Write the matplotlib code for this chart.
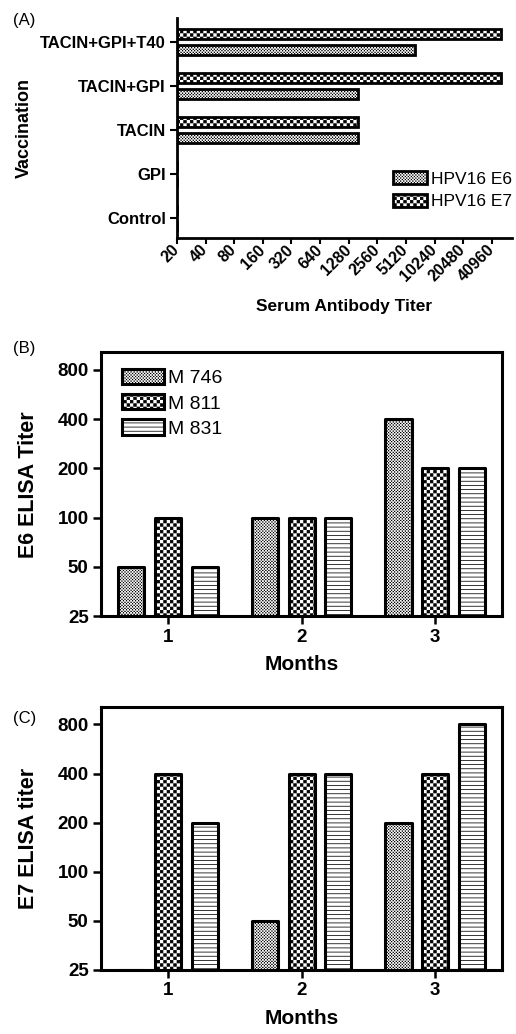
import warnings
import numpy as np
import matplotlib
matplotlib.use('Agg')
import matplotlib.pyplot as plt
import matplotlib.hatch as mhatch
from matplotlib.path import Path
from matplotlib.ticker import NullLocator

warnings.filterwarnings('ignore')

# (A) serum antibody titers per vaccination group
vaccines = ['Control', 'GPI', 'TACIN', 'TACIN+GPI', 'TACIN+GPI+T40']
hpv_e6 = [20, 20, 1600, 1600, 6400]
hpv_e7 = [20, 20, 1600, 51200, 51200]
titer_ticks = [20, 40, 80, 160, 320, 640, 1280, 2560, 5120, 10240, 20480, 40960]

# (B) E6 and (C) E7 ELISA titers per mouse over months
months = [1, 2, 3]
mice = ['M 746', 'M 811', 'M 831']
e6_m746 = [50, 100, 400]
e6_m811 = [100, 100, 200]
e6_m831 = [50, 100, 200]
e7_m746 = [25, 50, 200]
e7_m811 = [400, 400, 400]
e7_m831 = [200, 400, 800]
elisa_ticks = [25, 50, 100, 200, 400, 800]


# checkerboard fill patterns: 'c' coarse, 'k' fine
class CheckerHatch(mhatch.HatchPatternBase):
    def __init__(self, hatch, density):
        nc, nk = hatch.count('c'), hatch.count('k')
        n = (5 * nc + 11 * nk) * density
        self.n = n - n % 2
        self.ins = 0.004 if nc else 0.0052
        self.num_vertices = self.n * self.n // 2 * 5

    def set_vertices_and_codes(self, vertices, codes):
        n = self.n
        i, j = np.meshgrid(np.arange(n), np.arange(n))
        keep = (i + j) % 2 == 0
        s = 1.0 / n
        ins = self.ins
        sq = np.array([[0, 0], [1, 0], [1, 1], [0, 1], [0, 0]]) * (s - 2 * ins) + ins
        corners = np.stack([i[keep] * s, j[keep] * s], axis=1)
        vertices[:] = (corners[:, None, :] + sq[None, :, :]).reshape(-1, 2)
        c = [Path.MOVETO, Path.LINETO, Path.LINETO, Path.LINETO, Path.CLOSEPOLY]
        codes[:] = np.tile(c, len(corners))


mhatch._hatch_types.append(CheckerHatch)

plt.rcParams['font.family'] = ['Liberation Sans', 'DejaVu Sans']
plt.rcParams['hatch.linewidth'] = 0.55
plt.rcParams['hatch.color'] = 'black'

fig = plt.figure(figsize=(5.16, 10.34), dpi=100)

# ---------- panel A ----------
ax = fig.add_axes([0.343, 0.770, 0.649, 0.2128])
ya = np.arange(len(vaccines))
b7 = ax.barh(ya + 0.185, np.array(hpv_e7) - 20, left=20, height=0.22,
             facecolor='white', edgecolor='black', hatch='c', lw=2)
b6 = ax.barh(ya - 0.185, np.array(hpv_e6) - 20, left=20, height=0.22,
             facecolor='white', edgecolor='black', hatch='k', lw=2)
ax.set_xscale('log', base=2)
ax.set_xlim(20, 66500)
ax.set_ylim(-0.45, 4.55)
ax.set_xticks(titer_ticks, [str(t) for t in titer_ticks], rotation=45,
              ha='right', va='center', rotation_mode='anchor',
              fontsize=11.5, fontweight='bold')
ax.xaxis.set_minor_locator(NullLocator())
ax.set_yticks(ya, vaccines, fontsize=12, fontweight='bold')
for side in ['top', 'right']:
    ax.spines[side].set_visible(False)
for side in ['left', 'bottom']:
    ax.spines[side].set_linewidth(2)
ax.tick_params(axis='y', length=5, width=1.5, pad=3)
ax.tick_params(axis='x', length=4, width=1.5, pad=3)
ax.set_xlabel('Serum Antibody Titer', fontsize=12.5, fontweight='bold')
ax.xaxis.set_label_coords(0.5, -0.28)
ax.set_ylabel('Vaccination', fontsize=13, fontweight='bold')
ax.yaxis.set_label_coords(-0.43, 0.5)
ax.legend([b6, b7], ['HPV16 E6', 'HPV16 E7'], loc='lower right',
          bbox_to_anchor=(1.0, 0.13), frameon=False, fontsize=12.5,
          handlelength=2.0, handleheight=0.75, handletextpad=0.2,
          labelspacing=0.4, borderpad=0, borderaxespad=0)
fig.text(0.025, 1 - 20 / 1034, '(A)', fontsize=12, va='center')

# ---------- panels B and C ----------
offsets = [-0.275, 0, 0.275]
hatches = ['k', 'c', '----']


def elisa_panel(rect, series, ylabel, tag, tag_y):
    ax = fig.add_axes(rect)
    x = np.array(months, dtype=float)
    bars = []
    for vals, off, h in zip(series, offsets, hatches):
        bars.append(ax.bar(x + off, np.array(vals) - 25, bottom=25, width=0.195,
                           facecolor='white', edgecolor='black', hatch=h,
                           lw=2.2, joinstyle='round'))
    ax.set_yscale('log', base=2)
    ax.set_ylim(25, 1024)
    ax.set_xlim(0.5, 3.5)
    ax.set_yticks(elisa_ticks, [str(t) for t in elisa_ticks],
                  fontsize=13.5, fontweight='bold')
    ax.yaxis.set_minor_locator(NullLocator())
    ax.set_xticks(months, [str(m) for m in months], fontsize=13.5, fontweight='bold')
    for side in ax.spines.values():
        side.set_linewidth(2.2)
    ax.tick_params(axis='y', length=6, width=1.8, pad=3)
    ax.tick_params(axis='x', length=6, width=1.8, pad=3)
    ax.set_xlabel('Months', fontsize=15, fontweight='bold')
    ax.xaxis.set_label_coords(0.5, -0.148)
    ax.set_ylabel(ylabel, fontsize=15.5, fontweight='bold')
    ax.yaxis.set_label_coords(-0.155, 0.5)
    fig.text(0.025, tag_y, tag, fontsize=12, va='center')
    return ax, bars


axb, bars_b = elisa_panel([0.196, 0.404, 0.777, 0.2553],
                          [e6_m746, e6_m811, e6_m831], 'E6 ELISA Titer',
                          '(B)', 1 - 349 / 1034)
axb.legend(bars_b, mice, loc='upper left', bbox_to_anchor=(0.052, 0.936),
           frameon=False, fontsize=14, handlelength=2.15, handleheight=0.82,
           handletextpad=0.2, labelspacing=0.35, borderpad=0, borderaxespad=0)

elisa_panel([0.196, 0.0619, 0.777, 0.2544],
            [e7_m746, e7_m811, e7_m831], 'E7 ELISA titer',
            '(C)', 1 - 718 / 1034)

fig.savefig('out.png', dpi=100)
